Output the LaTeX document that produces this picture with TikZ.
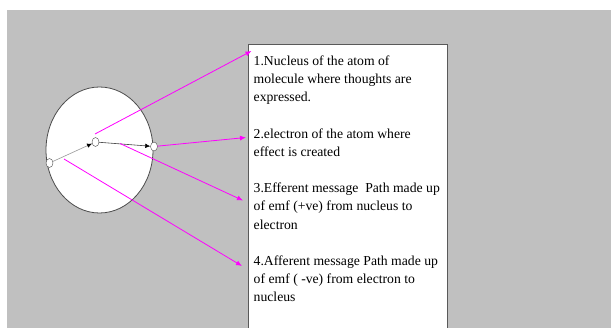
\documentclass[tikz,border=0pt]{standalone}
\usepackage{fontspec}
\setmainfont{Liberation Serif}
\usetikzlibrary{positioning, arrows.meta, shapes.geometric}
\definecolor{slide}{HTML}{C0C0C0}
\definecolor{pink}{HTML}{FF00FF}

\begin{document}
\begin{tikzpicture}[x=1pt, y=-1pt,
  dot/.style={draw=black!70, fill=white, ellipse, inner sep=0pt, minimum width=7pt, minimum height=9pt},
  flow/.style={line width=.6pt, -{Latex[length=5pt, width=4.5pt, color=black]}},
  link/.style={pink, line width=.8pt, -{Latex[length=6pt, width=5pt]}}]
	\useasboundingbox (0,0) rectangle (611,328);
	\fill[white] (0,0) rectangle (611,328);
	\fill[slide] (7,10) rectangle (611,328);
%
	\node[draw=black!70, fill=white, ellipse, line width=.8pt, minimum width=107pt, minimum height=126pt] (atom) at (99.5,150) {};
	\node[dot] (nuc) at (95.5,142) {};
	\node[dot] (elec) at (154,146.5) {};
	\node[dot] (rim) at (49.5,163) {};
	\draw[flow, draw=black!40] (rim) -- (nuc);
	\draw[flow, draw=black!75] (nuc) -- (elec);
%
	\node[draw=black!65, fill=white, line width=.8pt, inner sep=0pt, anchor=north west, minimum width=199.5pt, minimum height=300pt] (panel) at (247.5,44.5) {};
	\node[below right=11pt and 6pt of panel.north west, inner sep=0pt, align=left, font=\fontsize{13.7}{18.2}\selectfont] (notes) {%
	1.Nucleus of the atom of\\
	molecule where thoughts are\\
	expressed.\\[18.2pt]
	2.electron of the atom where\\
	effect is created\\[18.2pt]
	3.Efferent message~ Path made up\\
	of emf (+ve) from nucleus to\\
	electron\\[18.2pt]
	4.Afferent message Path made up\\
	of emf ( -ve) from electron to\\
	nucleus};
%
	\coordinate (s1) at (95,134);
	\coordinate (s3) at (120,143.5);
	\coordinate (s4) at (64,159);
	\coordinate (t1) at (251.5,51);
	\coordinate (t2) at (246,137.5);
	\coordinate (t3) at (243,200.5);
	\coordinate (t4) at (242,266);
	\draw[link] (s1) -- (t1);
	\draw[link] (elec) -- (t2);
	\draw[link] (s3) -- (t3);
	\draw[link] (s4) -- (t4);
\end{tikzpicture}
\end{document}
